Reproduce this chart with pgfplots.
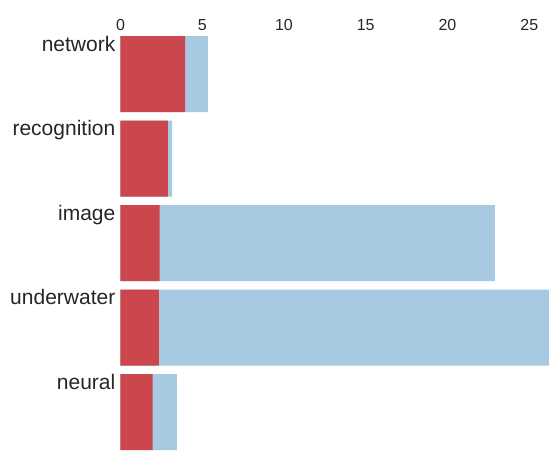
\documentclass[border=0pt]{standalone}
\usepackage{pgfplots}
\pgfplotsset{compat=1.18}
\usepackage{fontspec}
\setmainfont{Liberation Sans}
\definecolor{barred}{HTML}{CB464D}
\definecolor{barblue}{HTML}{A7C9E2}
\begin{document}
\begin{tikzpicture}
\begin{axis}[
  at={(120.5pt,418.25pt)}, anchor=north west,
  x=16.35pt, y=84.5pt,
  xmin=0, xmax=26.2, ymin=-0.5, ymax=4.5, y dir=reverse,
  enlargelimits=false,
  xbar, bar width=76pt, bar shift=0pt,
  clip mode=individual,
  axis line style={draw=none}, tick style={draw=none},
  xtick={0,5,10,15,20,25}, ytick=\empty,
  xticklabel pos=upper,
  /pgf/number format/assume math mode=true,
  xticklabel style={font=\fontsize{16}{19}\selectfont, inner sep=0pt, anchor=south, yshift=0.5pt, text=black!85},
]
\addplot[fill=barblue, draw=none] coordinates {(5.35,0) (3.15,1) (22.9,2) (30,3) (3.45,4)};
\addplot[fill=barred, draw=none] coordinates {(3.95,0) (2.9,1) (2.4,2) (2.35,3) (1.97,4)};
\node[anchor=base east, inner sep=0pt, font=\fontsize{21}{25}\selectfont, text=black!85] at ([xshift=-5pt,yshift=23pt]axis cs:0,0) {network};
\node[anchor=base east, inner sep=0pt, font=\fontsize{21}{25}\selectfont, text=black!85] at ([xshift=-5pt,yshift=23pt]axis cs:0,1) {recognition};
\node[anchor=base east, inner sep=0pt, font=\fontsize{21}{25}\selectfont, text=black!85] at ([xshift=-5pt,yshift=23pt]axis cs:0,2) {image};
\node[anchor=base east, inner sep=0pt, font=\fontsize{21}{25}\selectfont, text=black!85] at ([xshift=-5pt,yshift=23pt]axis cs:0,3) {underwater};
\node[anchor=base east, inner sep=0pt, font=\fontsize{21}{25}\selectfont, text=black!85] at ([xshift=-5pt,yshift=23pt]axis cs:0,4) {neural};
\end{axis}
\pgfresetboundingbox
\useasboundingbox (0,0) rectangle (549pt,450pt);
\end{tikzpicture}
\end{document}
